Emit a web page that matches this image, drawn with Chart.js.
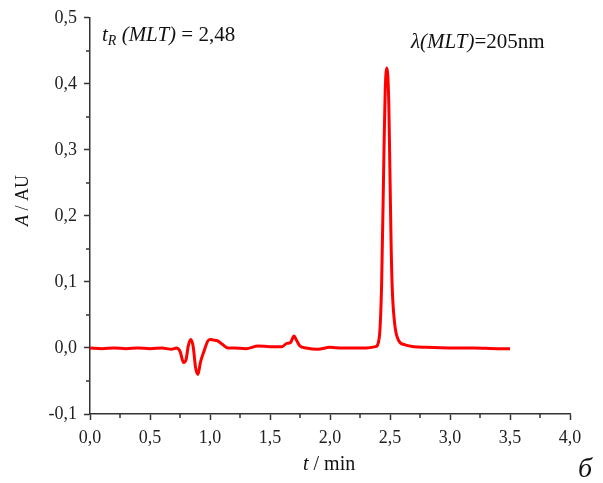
<!DOCTYPE html>
<html>
<head>
<meta charset="utf-8">
<script src="https://cdn.jsdelivr.net/npm/chart.js@4"></script>
<style>
  body { margin: 0; background: #fff; }
  canvas { display: block; }
</style>
</head>
<body>
<canvas id="chromChart" width="603" height="483"></canvas>
<script>
// Chromatogram data (time in min, absorbance in AU)
const times = [0, 0.1, 0.2, 0.3, 0.4, 0.5, 0.6, 0.68, 0.72, 0.75, 0.78, 0.8, 0.82, 0.84, 0.86, 0.88, 0.9, 0.92, 0.95, 0.98,
    1.0, 1.03, 1.06, 1.1, 1.15, 1.2, 1.3, 1.4, 1.5, 1.6, 1.64, 1.67, 1.7, 1.72, 1.75, 1.8, 1.9, 2.0, 2.1, 2.2, 2.3,
    2.38, 2.41, 2.43, 2.45, 2.46, 2.475, 2.49, 2.5, 2.51, 2.52, 2.54, 2.57, 2.62, 2.7, 2.8, 3.0, 3.2, 3.4, 3.5];
const absorbance = [0.000, -0.001, 0.000, -0.001, 0.000, -0.001, 0.000, -0.002, 0.000, -0.005, -0.022, -0.018, 0.004, 0.013, 0.002, -0.030, -0.040, -0.022, -0.005, 0.010,
    0.013, 0.012, 0.011, 0.006, 0.000, 0.000, -0.001, 0.003, 0.002, 0.002, 0.007, 0.008, 0.018, 0.012, 0.003, 0.000, -0.002, 0.001, 0.000, 0.000, 0.000,
    0.002, 0.015, 0.095, 0.30, 0.39, 0.424, 0.37, 0.26, 0.15, 0.085, 0.035, 0.012, 0.005, 0.002, 0.001, 0.000, 0.000, -0.001, -0.001];

const xTicks = [0, 0.5, 1.0, 1.5, 2.0, 2.5, 3.0, 3.5, 4.0];
const yTicks = [-0.1, 0, 0.1, 0.2, 0.3, 0.4, 0.5];

const serif = "'Liberation Serif', 'Times New Roman', serif";
const axisColor = '#333';

function fmt(v) {
    return Number(v).toFixed(1).replace('.', ',');
}

// draw a run of [text, italic, size, dy] pieces starting at x
function drawPieces(ctx, pieces, x, y, size) {
    pieces.forEach(function (p) {
        const sz = p[2] || size;
        ctx.font = (p[1] ? 'italic ' : '') + sz + 'px ' + serif;
        ctx.fillText(p[0], x, y + (p[3] || 0));
        x += ctx.measureText(p[0]).width;
    });
    return x;
}

const extras = {
    id: 'extras',
    afterDraw(chart) {
        const ctx = chart.ctx;
        const xs = chart.scales.x, ys = chart.scales.y;
        ctx.save();
        // minor ticks
        ctx.strokeStyle = axisColor;
        ctx.lineWidth = 1.5;
        ctx.beginPath();
        for (let i = 0; i < xTicks.length - 1; i++) {
            const px = Math.round(xs.getPixelForValue((xTicks[i] + xTicks[i + 1]) / 2));
            ctx.moveTo(px, ys.bottom);
            ctx.lineTo(px, ys.bottom + 4);
        }
        for (let i = 0; i < yTicks.length - 1; i++) {
            const py = Math.round(ys.getPixelForValue((yTicks[i] + yTicks[i + 1]) / 2));
            ctx.moveTo(xs.left, py);
            ctx.lineTo(xs.left - 4, py);
        }
        ctx.stroke();

        ctx.fillStyle = '#111';
        ctx.textBaseline = 'alphabetic';
        ctx.textAlign = 'left';

        // annotations
        drawPieces(ctx, [['t', true], ['R', true, 14, 4], [' (MLT)', true], [' = 2,48', false]], 102, 41, 21);
        drawPieces(ctx, [['λ(MLT)', true], ['=205nm', false]], 411, 48, 21);

        // x axis title
        drawPieces(ctx, [['t', true], [' / min', false]], 303, 470, 20);

        // y axis title
        ctx.translate(28, 226);
        ctx.rotate(-Math.PI / 2);
        drawPieces(ctx, [['A', true], [' / AU', false]], 0, 0, 18);
        ctx.restore();

        ctx.save();
        ctx.fillStyle = '#111';
        ctx.font = 'italic 28px ' + serif;
        ctx.fillText('б', 578, 477);
        ctx.restore();
    }
};

const ctx = document.getElementById('chromChart').getContext('2d');
new Chart(ctx, {
    type: 'line',
    data: {
        datasets: [{
            data: times.map((t, i) => ({ x: t, y: absorbance[i] })),
            borderColor: '#ff0000',
            borderWidth: 3,
            pointRadius: 0,
            cubicInterpolationMode: 'monotone',
            fill: false
        }]
    },
    options: {
        responsive: false,
        animation: false,
        layout: { padding: { left: 0, right: 33, top: 14, bottom: 0 } },
        plugins: { legend: { display: false }, tooltip: { enabled: false } },
        scales: {
            x: {
                type: 'linear',
                min: 0,
                max: 4,
                afterBuildTicks: function (scale) {
                    scale.ticks = xTicks.map(v => ({ value: v }));
                },
                afterFit: function (scale) { scale.height = 69; },
                ticks: {
                    color: '#222',
                    font: { family: serif, size: 18 },
                    padding: 7,
                    maxRotation: 0,
                    callback: fmt
                },
                grid: { drawOnChartArea: false, tickLength: 6, tickColor: axisColor, tickWidth: 1.5 },
                border: { color: axisColor, width: 1.5 }
            },
            y: {
                type: 'linear',
                min: -0.1,
                max: 0.5,
                afterBuildTicks: function (scale) {
                    scale.ticks = yTicks.map(v => ({ value: v }));
                },
                afterFit: function (scale) { scale.width = 90; },
                ticks: {
                    color: '#222',
                    font: { family: serif, size: 18 },
                    padding: 7,
                    callback: fmt
                },
                grid: { drawOnChartArea: false, tickLength: 6, tickColor: axisColor, tickWidth: 1.5 },
                border: { color: axisColor, width: 1.5 }
            }
        }
    },
    plugins: [extras]
});
</script>
</body>
</html>
